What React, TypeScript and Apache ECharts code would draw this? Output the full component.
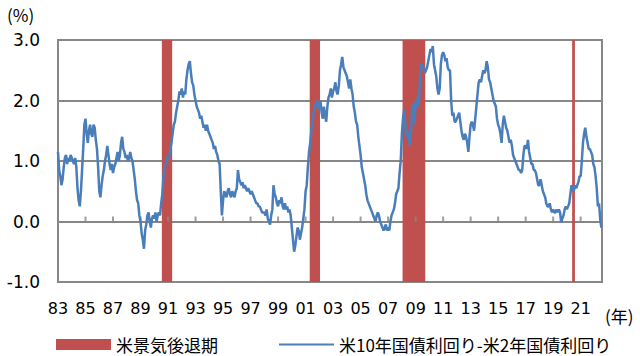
import React, { useEffect, useRef } from "react";
import * as echarts from "echarts";

// Monthly US 10y - 2y Treasury spread (%), starting Jan 1983
const spread1983to1989 = [
  1.15, 0.85, 0.75, 0.6, 0.7, 0.9, 1.05, 1.1, 0.95, 1.05, 1.0, 1.1, // 1983
  1.05, 1.0, 0.95, 1.05, 0.9, 0.55, 0.35, 0.25, 0.5, 0.85, 1.2, 1.6, // 1984
  1.7, 1.45, 1.3, 1.5, 1.6, 1.45, 1.4, 1.6, 1.55, 1.35, 1.2, 0.9, // 1985
  0.5, 0.4, 0.6, 0.75, 0.85, 1.0, 1.1, 1.25, 1.1, 0.95, 0.85, 0.95, // 1986
  0.8, 0.9, 0.95, 1.05, 1.15, 1.0, 1.1, 1.3, 1.4, 1.2, 1.15, 1.05, // 1987
  1.1, 1.0, 1.05, 1.15, 1.05, 1.0, 0.85, 0.7, 0.5, 0.35, 0.3, 0.1, // 1988
  0.0, -0.2, -0.3, -0.45, -0.15, -0.05, 0.1, 0.15, 0.0, -0.1, 0.05, 0.1, // 1989
];
const spread1990to1999 = [
  0.05, 0.15, 0.0, 0.1, 0.15, 0.1, 0.3, 0.45, 0.75, 0.9, 0.95, 1.0, // 1990
  1.1, 1.05, 1.2, 1.3, 1.45, 1.6, 1.65, 1.8, 1.9, 2.0, 2.15, 2.1, // 1991
  2.2, 2.05, 2.15, 2.1, 2.35, 2.5, 2.6, 2.65, 2.45, 2.3, 2.25, 2.1, // 1992
  2.0, 1.9, 1.85, 1.8, 1.7, 1.75, 1.65, 1.55, 1.6, 1.5, 1.6, 1.5, // 1993
  1.45, 1.4, 1.35, 1.3, 1.2, 1.25, 1.15, 1.1, 1.0, 0.95, 0.5, 0.1, // 1994
  0.35, 0.5, 0.45, 0.4, 0.5, 0.55, 0.45, 0.4, 0.5, 0.45, 0.4, 0.5, // 1995
  0.55, 0.85, 0.7, 0.65, 0.6, 0.65, 0.55, 0.6, 0.55, 0.5, 0.55, 0.5, // 1996
  0.45, 0.5, 0.45, 0.4, 0.35, 0.3, 0.3, 0.25, 0.25, 0.2, 0.15, 0.15, // 1997
  0.15, 0.1, 0.2, 0.05, 0.0, -0.05, 0.1, 0.2, 0.6, 0.45, 0.4, 0.3, // 1998
  0.25, 0.35, 0.3, 0.4, 0.25, 0.2, 0.3, 0.2, 0.25, 0.15, 0.2, 0.1, // 1999
];
const spread2000to2009 = [
  -0.1, -0.3, -0.5, -0.4, -0.25, -0.1, -0.15, -0.3, -0.2, -0.1, 0.05, 0.2, // 2000
  0.5, 0.6, 0.9, 1.15, 1.3, 1.5, 1.65, 1.8, 1.9, 1.95, 2.0, 1.85, // 2001
  1.9, 2.0, 1.8, 1.7, 1.9, 1.75, 1.65, 1.9, 2.05, 2.1, 2.2, 2.05, // 2002
  2.15, 2.2, 2.3, 2.15, 2.1, 2.25, 2.5, 2.6, 2.72, 2.55, 2.5, 2.45, // 2003
  2.4, 2.3, 2.2, 2.35, 2.2, 2.1, 1.9, 1.8, 1.65, 1.6, 1.4, 1.25, // 2004
  1.1, 0.9, 0.8, 0.7, 0.6, 0.45, 0.35, 0.3, 0.25, 0.2, 0.15, 0.1, // 2005
  0.05, 0.0, 0.1, 0.15, 0.1, 0.0, -0.05, -0.1, -0.15, -0.1, -0.05, -0.15, // 2006
  -0.1, -0.15, 0.0, 0.1, 0.15, 0.2, 0.3, 0.45, 0.5, 0.55, 0.8, 1.0, // 2007
  1.45, 1.7, 1.85, 1.6, 1.4, 1.5, 1.4, 1.25, 1.5, 1.9, 1.95, 1.6, // 2008
  1.95, 2.05, 1.9, 2.0, 2.45, 2.6, 2.55, 2.55, 2.45, 2.5, 2.55, 2.65, // 2009
];
const spread2010to2022 = [
  2.75, 2.85, 2.8, 2.9, 2.6, 2.5, 2.4, 2.2, 2.1, 2.2, 2.6, 2.75, // 2010
  2.8, 2.75, 2.65, 2.7, 2.55, 2.5, 2.5, 2.0, 1.75, 1.8, 1.65, 1.65, // 2011
  1.7, 1.75, 1.8, 1.65, 1.5, 1.4, 1.35, 1.45, 1.4, 1.3, 1.15, 1.4, // 2012
  1.6, 1.65, 1.6, 1.5, 1.7, 1.9, 2.1, 2.3, 2.35, 2.3, 2.4, 2.5, // 2013
  2.45, 2.5, 2.65, 2.55, 2.35, 2.3, 2.2, 2.1, 2.0, 1.95, 1.9, 1.7, // 2014
  1.6, 1.55, 1.45, 1.3, 1.6, 1.75, 1.65, 1.55, 1.5, 1.4, 1.3, 1.35, // 2015
  1.25, 1.1, 1.05, 1.0, 0.95, 0.9, 0.85, 0.85, 0.8, 0.85, 1.1, 1.25, // 2016
  1.25, 1.2, 1.35, 1.15, 1.05, 0.95, 0.95, 0.85, 0.85, 0.8, 0.7, 0.6, // 2017
  0.6, 0.7, 0.6, 0.5, 0.45, 0.4, 0.3, 0.25, 0.25, 0.3, 0.2, 0.15, // 2018
  0.2, 0.15, 0.15, 0.2, 0.15, 0.2, 0.15, -0.02, 0.05, 0.1, 0.2, 0.25, // 2019
  0.2, 0.25, 0.3, 0.45, 0.6, 0.55, 0.5, 0.6, 0.55, 0.6, 0.65, 0.75, // 2020
  0.75, 1.0, 1.3, 1.45, 1.55, 1.4, 1.3, 1.2, 1.2, 1.15, 1.1, 0.95, // 2021
  0.9, 0.75, 0.55, 0.25, 0.3, 0.05, -0.1, // 2022
];

const startYear = 1983;
const endYear = 2022.55;

// US recession periods (fractional years)
const recessionStart = [1990.55, 2001.3, 2008.05, 2020.38];
const recessionEnd = [1991.3, 2002.05, 2009.7, 2020.58];

const xTickLabels = ["83", "85", "87", "89", "91", "93", "95", "97", "99", "01", "03", "05", "07", "09", "11", "13", "15", "17", "19", "21"];
const yTickLabels = ["-1.0", "0.0", "1.0", "2.0", "3.0"];

const recessionName = "米景気後退期";
const spreadName = "米10年国債利回り-米2年国債利回り";

const GRID_COLOR = "#878787";
const RED = "#C0504D";
const BLUE = "#4A7EBB";
const NUM_FONT = "DejaVu Sans";
const JP_FONT = "Noto Sans CJK JP";

export default function App() {
  const ref = useRef<HTMLDivElement>(null);

  useEffect(() => {
    if (!ref.current) return;
    const chart = echarts.init(ref.current, undefined, { renderer: "svg" });

    const allSpread = [...spread1983to1989, ...spread1990to1999, ...spread2000to2009, ...spread2010to2022];
    const lineData = allSpread.map((v, i) => [i / 12, v]);
    const areas = recessionStart.map((s, i) => [
      { xAxis: s - startYear },
      { xAxis: recessionEnd[i] - startYear },
    ]);
    // Excel-style tick marks sitting on the 0 line, one per labelled year
    const zeroTicks = xTickLabels.map((_, i) => [i * 2, 0]);

    const xLabel = (v: number) => {
      if (Math.abs(v - Math.round(v)) > 1e-6) return "";
      const r = Math.round(v);
      if (r % 2 !== 0) return "";
      return xTickLabels[r / 2] ?? "";
    };

    chart.setOption({
      animation: false,
      grid: {
        left: 58,
        right: 38,
        top: 40,
        bottom: 74,
        show: true,
        borderColor: GRID_COLOR,
        borderWidth: 2,
        backgroundColor: "transparent",
      },
      xAxis: {
        type: "value",
        min: 0,
        max: endYear - startYear,
        interval: 2,
        position: "bottom",
        axisLine: { show: false, onZero: false },
        axisTick: { show: false },
        splitLine: { show: false },
        axisLabel: {
          show: true,
          margin: 18,
          fontFamily: NUM_FONT,
          fontSize: 16,
          color: "#000",
          formatter: xLabel,
          showMaxLabel: false,
        },
      },
      yAxis: {
        type: "value",
        min: -1,
        max: 3,
        interval: 1,
        axisLine: { show: false },
        axisTick: { show: false },
        splitLine: { show: true, lineStyle: { color: GRID_COLOR, width: 2 } },
        axisLabel: {
          margin: 18,
          fontFamily: NUM_FONT,
          fontSize: 17,
          color: "#000",
          formatter: (v: number) => yTickLabels[Math.round(v) + 1] ?? "",
        },
      },
      legend: {
        left: 51,
        top: 331,
        itemWidth: 55,
        itemHeight: 11,
        itemGap: 60,
        textStyle: { fontFamily: JP_FONT, fontSize: 17, color: "#000" },
        data: [
          { name: recessionName, icon: "rect" },
          { name: spreadName, itemStyle: { color: "transparent", opacity: 0, borderWidth: 0 } },
        ],
      },
      graphic: [
        {
          type: "text",
          left: 7,
          top: 6,
          style: { text: "(%)", font: `17px "${JP_FONT}"`, fill: "#000" },
        },
        {
          type: "text",
          left: 605,
          top: 307,
          style: { text: "(年)", font: `17px "${JP_FONT}"`, fill: "#000" },
        },
      ],
      series: [
        {
          name: recessionName,
          type: "line",
          data: [],
          z: 1,
          color: RED,
          itemStyle: { color: RED },
          lineStyle: { color: RED },
          markArea: {
            silent: true,
            itemStyle: { color: RED, opacity: 1 },
            data: areas,
          },
        },
        {
          name: "zeroTicks",
          type: "scatter",
          data: zeroTicks,
          z: 2,
          silent: true,
          symbol: "rect",
          symbolSize: [2, 5],
          symbolOffset: [0, -2.5],
          itemStyle: { color: GRID_COLOR },
          tooltip: { show: false },
        },
        {
          name: spreadName,
          type: "line",
          data: lineData,
          z: 3,
          symbol: "none",
          showSymbol: false,
          color: BLUE,
          lineStyle: { color: BLUE, width: 2.5 },
        },
      ],
    });

    return () => chart.dispose();
  }, []);

  return (
    <div
      ref={ref}
      style={{ position: "fixed", left: 0, top: 0, width: 640, height: 356, background: "#fff" }}
    />
  );
}
